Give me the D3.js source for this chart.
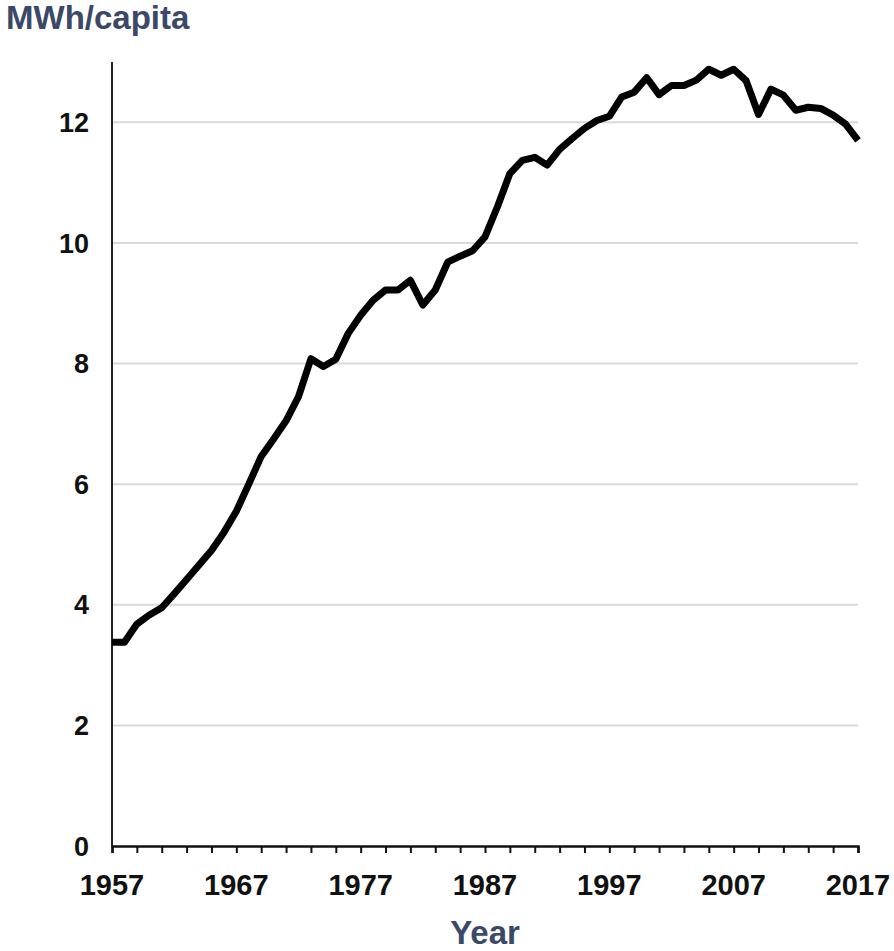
<html>
<head>
<style>
  body { margin: 0; background: #fff; }
  .grid line { stroke: #d9d9d9; stroke-width: 2; }
  .line { fill: none; stroke: #000; stroke-width: 7; stroke-linejoin: round; }
</style>
</head>
<body>
<svg id="chart" width="894" height="951"></svg>
<script src="https://cdn.jsdelivr.net/npm/d3@7"></script>
<script>
const years = [1957, 1958, 1959, 1960, 1961, 1962, 1963, 1964, 1965, 1966,
  1967, 1968, 1969, 1970, 1971, 1972, 1973, 1974, 1975, 1976,
  1977, 1978, 1979, 1980, 1981, 1982, 1983, 1984, 1985, 1986,
  1987, 1988, 1989, 1990, 1991, 1992, 1993, 1994, 1995, 1996,
  1997, 1998, 1999, 2000, 2001, 2002, 2003, 2004, 2005, 2006,
  2007, 2008, 2009, 2010, 2011, 2012, 2013, 2014, 2015, 2016, 2017]
const mwhPerCapita = [3.38, 3.38, 3.68, 3.83, 3.95, 4.18, 4.42, 4.66, 4.9, 5.2,
  5.55, 6.0, 6.46, 6.75, 7.05, 7.45, 8.08, 7.95, 8.07, 8.5,
  8.8, 9.05, 9.22, 9.22, 9.38, 8.97, 9.22, 9.68, 9.78, 9.87,
  10.1, 10.6, 11.15, 11.37, 11.42, 11.29, 11.55, 11.73, 11.9, 12.03,
  12.1, 12.42, 12.5, 12.74, 12.46, 12.61, 12.61, 12.7, 12.88, 12.78,
  12.88, 12.69, 12.13, 12.55, 12.45, 12.2, 12.25, 12.23, 12.12, 11.97, 11.7]
const yTicks = [0, 2, 4, 6, 8, 10, 12]
const xLabels = [1957, 1967, 1977, 1987, 1997, 2007, 2017]
const xMinorTicks = years.filter((y, i) => i % 2 == 0)

const svg = d3.select("#chart")
const plotLeft = 112, plotRight = 858, plotTop = 62, plotBottom = 846
const slate = "#3b4868"

let x = d3.scaleLinear().domain([1957, 2017]).range([plotLeft, plotRight])
let y = d3.scaleLinear().domain([0, 13]).range([plotBottom, plotTop])

// gridlines
svg.append("g").attr("class", "grid")
  .selectAll("line").data(yTicks.filter(d => d > 0))
  .enter().append("line")
  .attr("x1", plotLeft).attr("x2", plotRight)
  .attr("y1", d => y(d)).attr("y2", d => y(d))

// y axis line + labels
svg.append("line")
  .attr("x1", plotLeft).attr("x2", plotLeft)
  .attr("y1", plotTop).attr("y2", plotBottom)
  .attr("stroke", "#222").attr("stroke-width", 2)

svg.append("g").selectAll("text").data(yTicks)
  .enter().append("text")
  .attr("x", 89)
  .attr("y", d => y(d))
  .attr("dy", "0.36em")
  .attr("text-anchor", "end")
  .attr("font-family", "Liberation Sans, Arial, sans-serif")
  .attr("font-weight", "bold")
  .attr("font-size", 27)
  .attr("fill", "#111")
  .text(d => d)

// x axis
let xAxis = d3.axisBottom(x)
  .tickValues(xMinorTicks)
  .tickSize(7)
  .tickFormat("")
let gx = svg.append("g").attr("transform", `translate(0,${plotBottom})`).call(xAxis)
gx.select(".domain").attr("stroke", "#111").attr("stroke-width", 2.5)
gx.selectAll(".tick line").attr("stroke", "#111").attr("stroke-width", 2)

svg.append("g").selectAll("text").data(xLabels)
  .enter().append("text")
  .attr("x", d => x(d))
  .attr("y", 895)
  .attr("text-anchor", "middle")
  .attr("font-family", "Liberation Sans Narrow, Arial Narrow, sans-serif")
  .attr("font-weight", "bold")
  .attr("font-size", 29)
  .attr("fill", "#111")
  .text(d => d)

// the series
let line = d3.line()
  .x((d, i) => x(years[i]))
  .y(d => y(d))
svg.append("path")
  .datum(mwhPerCapita)
  .attr("class", "line")
  .attr("d", line)

// titles
svg.append("text")
  .attr("x", 6).attr("y", 29)
  .attr("font-family", "Liberation Sans, Arial, sans-serif")
  .attr("font-weight", "bold")
  .attr("font-size", 33)
  .attr("fill", slate)
  .text("MWh/capita")

svg.append("text")
  .attr("x", 485).attr("y", 944)
  .attr("text-anchor", "middle")
  .attr("font-family", "Liberation Sans, Arial, sans-serif")
  .attr("font-weight", "bold")
  .attr("font-size", 33)
  .attr("fill", slate)
  .text("Year")
</script>
</body>
</html>
